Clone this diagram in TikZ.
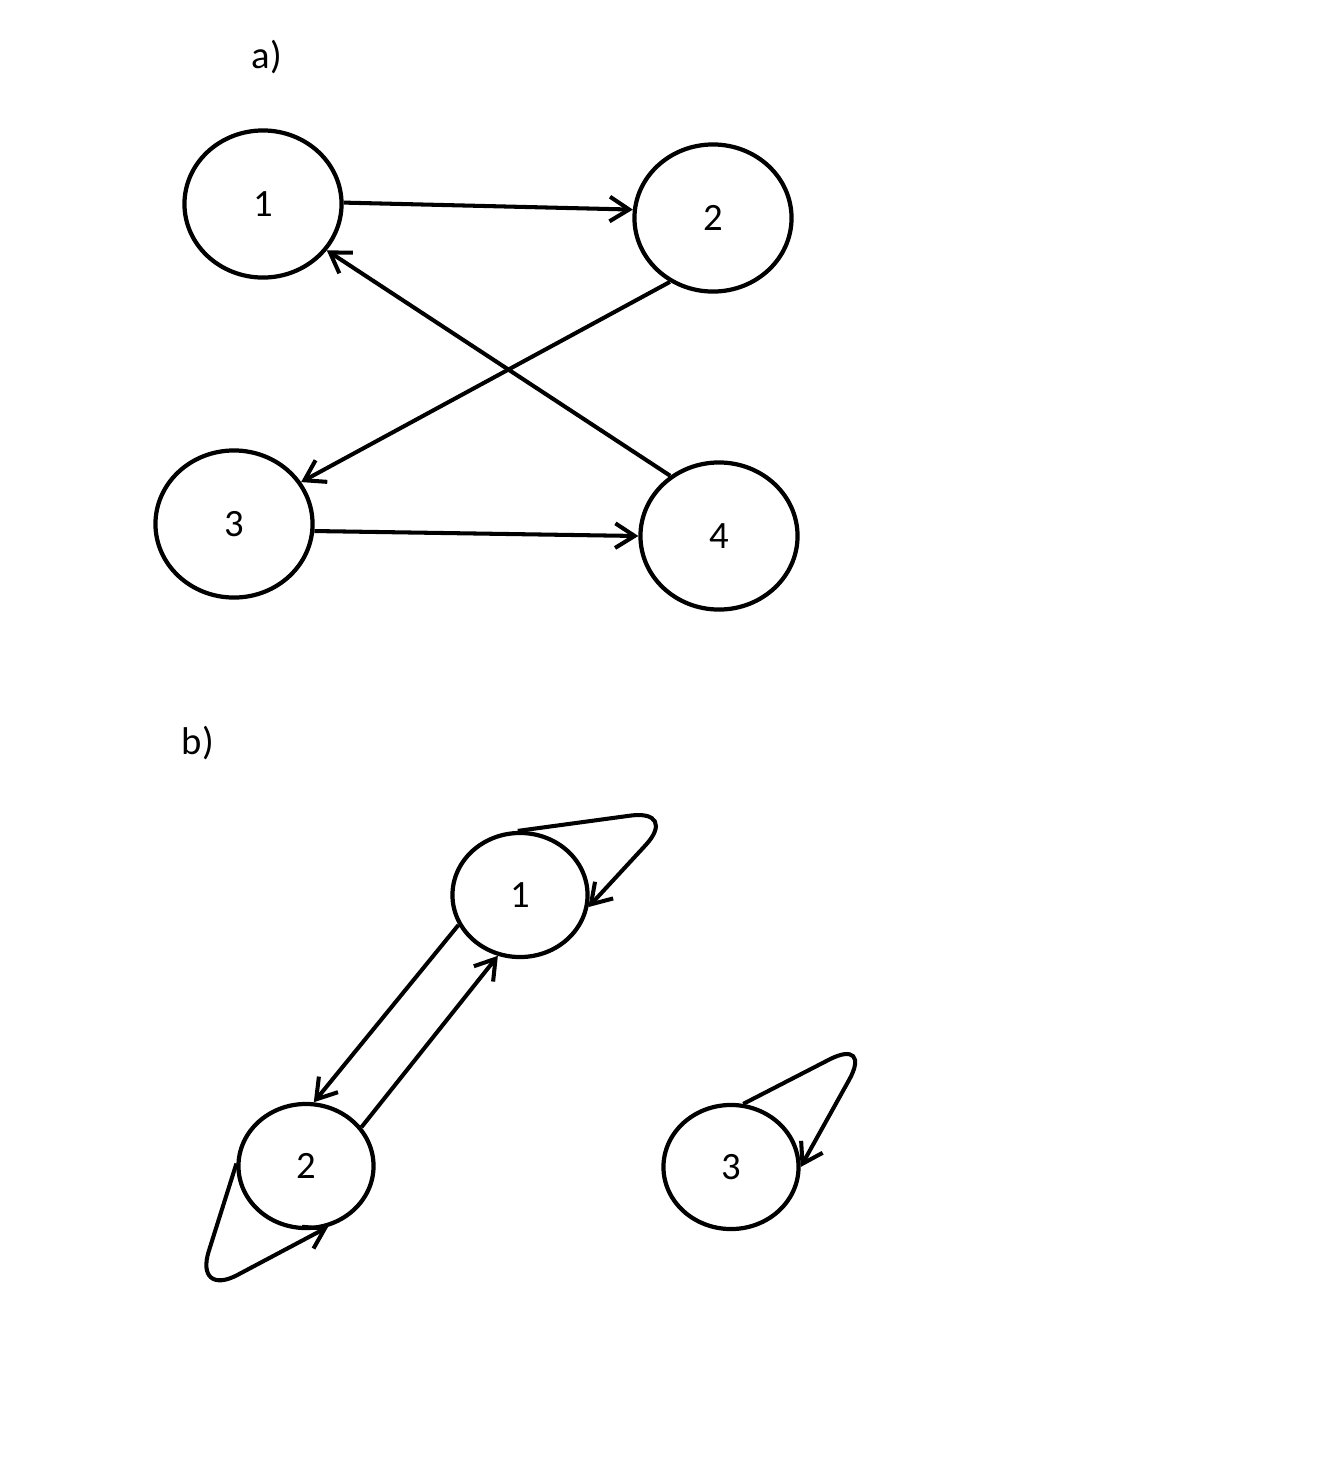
\documentclass[tikz,border=0pt]{standalone}
\usepackage{fontspec}
\setmainfont{Carlito}
\usepackage{tikz}
\usetikzlibrary{arrows.meta}
\usetikzlibrary{shapes.geometric}
\tikzset{vertex/.style = {draw, ellipse, line width = 1.2pt, inner sep = 0, font = \fontsize{11}{13}\selectfont}}
\tikzset{big/.style = {vertex, minimum width = 1.57cm, minimum height = 1.47cm}}
\tikzset{small/.style = {vertex, minimum width = 1.35cm, minimum height = 1.24cm}}
\tikzset{edge/.style = {line width = 1.15pt, -{Straight Barb[length = 5.5pt, width = 7pt]}}}
\tikzset{loopedge/.style = {edge, rounded corners = 14pt}}

\begin{document}
\begin{tikzpicture}[x = 0.01cm, y = -0.01cm]
      \useasboundingbox (0, 0) rectangle (1318, 1481);
      \node [font = \fontsize{11}{13}\selectfont] (la) at (267, 57) {a)};
      \node [font = \fontsize{11}{13}\selectfont] (lb) at (198, 743) {b)};

      % part a
      \foreach \n/\x/\y in {1/263/204, 2/713/218, 3/234/524, 4/719/536} {
        \node [big] (a\n) at (\x, \y) {\n};
      }
      \draw [edge] (a1.1) -- (a2.174);
      \draw [edge] (a2.236) -- (a3.32);
      \draw [edge] (a4.129) -- (a1.-36);
      \draw [edge] (a3.-5) -- (a4.180);

      % part b
      \foreach \n/\x/\y in {1/520/895, 2/306/1166, 3/731/1167} {
        \node [small] (b\n) at (\x, \y) {\n};
      }
      \draw [edge] (b2.35) -- (b1.250);
      \draw [edge] (b1.206) -- (b2.83);

      \coordinate (t1) at (679, 809);
      \coordinate (t2) at (194, 1298);
      \coordinate (t3) at (873, 1037);
      \draw [loopedge] (b1.92) -- (t1) -- (b1.-10);
      \draw [loopedge] (b2.178) -- (t2) -- (b2.-70);
      \draw [loopedge] (b3.79) -- (t3) -- (b3.0);
    \end{tikzpicture}
\end{document}
